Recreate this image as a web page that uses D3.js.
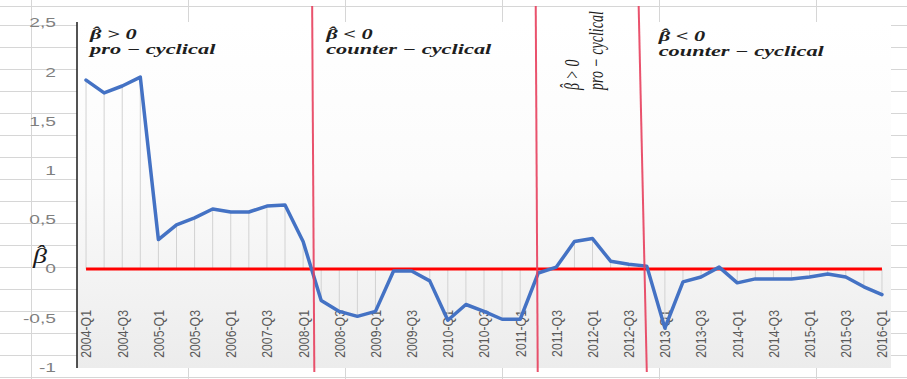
<!DOCTYPE html>
<html>
<head>
<meta charset="utf-8">
<script src="https://cdn.jsdelivr.net/npm/d3@7"></script>
<style>
  html, body { margin: 0; padding: 0; background: #ffffff; }
  svg { display: block; }
</style>
</head>
<body>
<script>
// Quarterly categories on the horizontal axis
const categories = [
  "2004-Q1","2004-Q2","2004-Q3","2004-Q4","2005-Q1","2005-Q2","2005-Q3","2005-Q4",
  "2006-Q1","2006-Q2","2007-Q3","2007-Q4","2008-Q1","2008-Q2","2008-Q3","2008-Q4",
  "2009-Q1","2009-Q2","2009-Q3","2009-Q4","2010-Q1","2010-Q2","2010-Q3","2010-Q4",
  "2011-Q1","2011-Q2","2011-Q3","2011-Q4","2012-Q1","2012-Q2","2012-Q3","2012-Q4",
  "2013-Q1","2013-Q2","2013-Q3","2013-Q4","2014-Q1","2014-Q2","2014-Q3","2014-Q4",
  "2015-Q1","2015-Q2","2015-Q3","2015-Q4","2016-Q1"
];

// Labels shown on the category axis
const tickLabels = [
  "2004-Q1","2004-Q3","2005-Q1","2005-Q3","2006-Q1","2007-Q3","2008-Q1","2008-Q3",
  "2009-Q1","2009-Q3","2010-Q1","2010-Q3","2011-Q1","2011-Q3","2012-Q1","2012-Q3",
  "2013-Q1","2013-Q3","2014-Q1","2014-Q3","2015-Q1","2015-Q3","2016-Q1"
];

// Estimated beta coefficient per quarter
const betaValues = [
  1.92, 1.79, 1.86, 1.95, 0.30, 0.45, 0.52, 0.61, 0.58, 0.58, 0.64, 0.65,
  0.28, -0.32, -0.43, -0.48, -0.43, -0.02, -0.02, -0.12, -0.52, -0.36, -0.43, -0.51,
  -0.51, -0.04, 0.02, 0.28, 0.31, 0.08, 0.05, 0.03, -0.60, -0.13, -0.08, 0.02,
  -0.14, -0.10, -0.10, -0.10, -0.08, -0.05, -0.08, -0.18, -0.26
];

// Value axis ticks
const yTicks = [-1, -0.5, 0, 0.5, 1, 1.5, 2, 2.5];

// Reference level separating pro- and counter-cyclical behaviour
const baselineValue = 0;

// Regime boundaries in category-index units (top end, bottom end)
const regimeBreaks = [[12.5, 12.62], [24.86, 24.97], [30.55, 31.0]];

// Regime annotations: sign condition after the hatted beta, and regime name
const regimeSigns = [" > 0", " < 0", " > 0", " < 0"];
const regimeNames = ["pro \u2212 cyclical", "counter \u2212 cyclical", "pro \u2212 cyclical", "counter \u2212 cyclical"];

const W = 907, H = 379;
const plot = { left: 77, right: 891, top: 22, bottom: 368 };

const svg = d3.select("body").append("svg")
  .attr("width", W).attr("height", H);

const x = d3.scaleBand().domain(categories).range([plot.left, plot.right]);
const y = d3.scaleLinear().domain([-1, 2.5]).range([367.5, 23]);
const cx = d => x(d) + x.bandwidth() / 2;
const xAtIndex = i => cx(categories[0]) + i * x.step();

// Worksheet cell grid behind the chart
const rowLines = [6].concat(d3.range(25, H, 22));
const colLines = d3.range(31, W, 157);
const sheet = svg.append("g").attr("stroke", "#d6d6d6").attr("stroke-width", 1)
  .attr("shape-rendering", "crispEdges");
sheet.selectAll("line.row").data(rowLines).join("line")
  .attr("x1", 0).attr("x2", W).attr("y1", d => d + 0.5).attr("y2", d => d + 0.5);
sheet.selectAll("line.col").data(colLines).join("line")
  .attr("y1", 0).attr("y2", H).attr("x1", d => d + 0.5).attr("x2", d => d + 0.5);

// Plot area with soft vertical gradient
const defs = svg.append("defs");
const grad = defs.append("linearGradient").attr("id", "plotFill")
  .attr("x1", 0).attr("y1", 0).attr("x2", 0).attr("y2", 1);
grad.append("stop").attr("offset", "0%").attr("stop-color", "#ffffff");
grad.append("stop").attr("offset", "45%").attr("stop-color", "#fbfbfb");
grad.append("stop").attr("offset", "100%").attr("stop-color", "#ececec");

svg.append("rect")
  .attr("x", plot.left).attr("y", plot.top)
  .attr("width", plot.right - plot.left).attr("height", plot.bottom - plot.top)
  .attr("fill", "url(#plotFill)");

// Value axis line
svg.append("line")
  .attr("x1", plot.left).attr("x2", plot.left)
  .attr("y1", plot.top).attr("y2", plot.bottom)
  .attr("stroke", "#1a1a1a").attr("stroke-width", 1.5);

// Value axis labels (comma decimals)
const locale = d3.formatLocale({ decimal: ",", thousands: ".", grouping: [3], currency: ["", ""], minus: "-" });
const fmt = locale.format("");
const yAxis = svg.append("g")
  .attr("transform", "translate(56,0)")
  .call(d3.axisLeft(y).tickValues(yTicks).tickSize(0).tickPadding(0).tickFormat(fmt));
yAxis.select(".domain").remove();
yAxis.selectAll("text")
  .attr("font-family", "'Liberation Sans', Arial, sans-serif")
  .attr("font-size", 12)
  .attr("fill", "#7f7f7f")
  .attr("transform", "scale(1.6,1)");

// Category axis labels, rotated
const xAxis = svg.append("g")
  .attr("transform", "translate(0,310)")
  .call(d3.axisBottom(x).tickValues(tickLabels).tickSize(0).tickPadding(0));
xAxis.select(".domain").remove();
xAxis.selectAll("text")
  .attr("font-family", "'Liberation Sans', Arial, sans-serif")
  .attr("font-size", 12.3)
  .attr("fill", "#595959")
  .attr("x", 0).attr("y", 0).attr("dy", "0.36em")
  .attr("text-anchor", "end")
  .attr("transform", "rotate(-90) scale(1,1.22)");

// High-low lines between the estimate and the zero level
svg.append("g").selectAll("line").data(categories).join("line")
  .attr("x1", d => cx(d)).attr("x2", d => cx(d))
  .attr("y1", (d, i) => y(betaValues[i])).attr("y2", y(baselineValue))
  .attr("stroke", "#d2d2d2").attr("stroke-width", 1);

// Zero level line
svg.append("line")
  .attr("x1", cx(categories[0])).attr("x2", cx(categories[categories.length - 1]))
  .attr("y1", y(baselineValue)).attr("y2", y(baselineValue))
  .attr("stroke", "#ff0000").attr("stroke-width", 3);

// Beta series
const line = d3.line().x((d, i) => cx(categories[i])).y(d => y(d));
svg.append("path")
  .datum(betaValues)
  .attr("d", line)
  .attr("fill", "none")
  .attr("stroke", "#4472c4")
  .attr("stroke-width", 3.5)
  .attr("stroke-linejoin", "round")
  .attr("stroke-linecap", "round");

// Regime boundary markers
svg.append("g").selectAll("line").data(regimeBreaks).join("line")
  .attr("x1", d => xAtIndex(d[0])).attr("x2", d => xAtIndex(d[1]))
  .attr("y1", 6).attr("y2", 372)
  .attr("stroke", "#e8405e").attr("stroke-width", 2).attr("opacity", 0.9);

const serif = "'Liberation Serif', 'Times New Roman', serif";

// Writes a hatted beta followed by an optional suffix into a text element
function hattedBeta(textSel, suffix) {
  textSel.append("tspan").text("\u03B2");
  textSel.append("tspan").text("\u02C6").attr("dx", "-0.43em").attr("dy", "-0.16em");
  textSel.append("tspan").text(suffix || "").attr("dx", "0.1em").attr("dy", "0.16em");
  return textSel;
}

// Regime annotations
const annX = [plot.left + 13, xAtIndex(regimeBreaks[0][0]) + 14, null, xAtIndex(regimeBreaks[2][0]) + 20];
const annY = [39, 39, null, 41];
[0, 1, 3].forEach(k => {
  const g = svg.append("g").attr("transform", `translate(${annX[k]},${annY[k]}) scale(1.6,1)`)
    .attr("font-family", serif).attr("font-size", 14)
    .attr("font-weight", "bold").attr("font-style", "italic").attr("fill", "#1e1e1e");
  hattedBeta(g.append("text"), regimeSigns[k]);
  g.append("text").text(regimeNames[k]).attr("y", 15);
});

// Narrow middle regime: vertical annotation
const midX = xAtIndex(regimeBreaks[1][0]);
const mid = svg.append("g")
  .attr("font-family", serif).attr("font-size", 14)
  .attr("font-style", "italic").attr("fill", "#1e1e1e");
hattedBeta(mid.append("text")
  .attr("transform", `translate(${midX + 43},90) rotate(-90) scale(1,1.5)`), regimeSigns[2]);
mid.append("text").text(regimeNames[2])
  .attr("transform", `translate(${midX + 67},90) rotate(-90) scale(1,1.5)`);

// Value axis title
hattedBeta(svg.append("text")
  .attr("transform", "translate(33,263) scale(1.4,1)")
  .attr("font-family", serif).attr("font-size", 20)
  .attr("font-style", "italic").attr("fill", "#1a1a1a"), "");
</script>
</body>
</html>
